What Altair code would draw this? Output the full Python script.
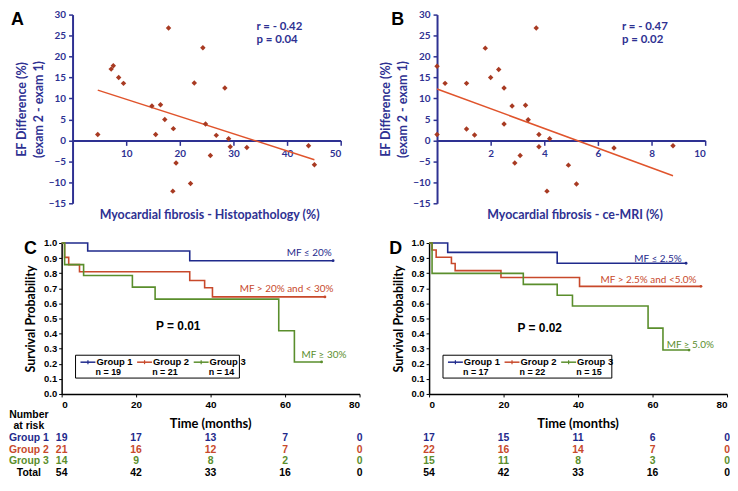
import altair as alt
import pandas as pd

# ---------------- Panel A: EF difference vs histopathology fibrosis ----------------
histo_fibrosis = [4.7, 7.2, 7.6, 8.6, 9.5, 14.8, 16.4, 15.5, 17.2, 17.9, 18.8, 18.7, 19.3,
                  22.0, 22.7, 24.3, 24.8, 25.7, 26.8, 28.4, 29.1, 29.4, 32.5, 44.0, 45.1]
histo_ef_diff = [1.4, 17.0, 17.8, 15.0, 13.6, 8.2, 8.5, 1.4, 5.0, 26.8, 2.8, -12.1, -5.4,
                 -10.3, 13.7, 22.1, 3.9, -3.6, 1.2, 12.5, 0.4, -1.5, -1.7, -1.3, -5.8]
a_stats = ["r = - 0.42", "p = 0.04"]

# ---------------- Panel B: EF difference vs ce-MRI fibrosis ----------------
mri_fibrosis = [0.0, 0.0, 0.3, 1.1, 1.1, 1.4, 1.8, 2.0, 2.3, 2.5, 2.5, 2.8, 2.9,
                3.1, 3.3, 3.4, 3.7, 3.8, 3.8, 4.1, 4.2, 4.9, 5.2, 6.6, 8.8]
mri_ef_diff = [17.7, 1.4, 13.6, 13.6, 2.7, 1.3, 22.0, 15.0, 16.9, 12.5, 3.9, 8.2, -5.4,
               -3.6, 8.4, 4.9, 26.8, 1.4, -1.5, -12.1, 0.4, -5.9, -10.4, -1.8, -1.3]
b_stats = ["r = - 0.47", "p = 0.02"]

ef_ticks = [-15, -10, -5, 0, 5, 10, 15, 20, 25, 30]

# ---------------- Panel C: Kaplan-Meier by histopathology groups ----------------
groups = ["Group 1", "Group 2", "Group 3"]
c_g1_t = [0, 7.0, 34.4, 72.9]
c_g1_s = [1.0, 0.947, 0.883, 0.883]
c_g2_t = [0, 0.8, 1.9, 4.8, 34.4, 38.4, 40.5, 70.7]
c_g2_s = [1.0, 0.905, 0.857, 0.810, 0.752, 0.704, 0.643, 0.643]
c_g3_t = [0, 0.8, 5.9, 19.0, 25.1, 58.3, 62.5, 69.8]
c_g3_s = [1.0, 0.857, 0.785, 0.708, 0.628, 0.419, 0.212, 0.212]
c_n = ["n = 19", "n = 21", "n = 14"]
c_labels = ["MF ≤ 20%", "MF > 20% and < 30%", "MF ≥ 30%"]
c_label_t = [72.5, 73.0, 64.4]
c_label_s = [0.936, 0.692, 0.256]
c_p = "P = 0.01"
c_risk_g1 = [19, 17, 13, 7, 0]
c_risk_g2 = [21, 16, 12, 7, 0]
c_risk_g3 = [14, 9, 8, 2, 0]
c_risk_tot = [54, 42, 33, 16, 0]

# ---------------- Panel D: Kaplan-Meier by ce-MRI groups ----------------
d_g1_t = [0, 5.0, 34.4, 69.0]
d_g1_s = [1.0, 0.938, 0.866, 0.866]
d_g2_t = [0, 0.8, 1.9, 6.0, 7.0, 19.3, 40.4, 73.0]
d_g2_s = [1.0, 0.954, 0.906, 0.864, 0.817, 0.771, 0.713, 0.713]
d_g3_t = [0, 0.8, 25.3, 34.4, 38.5, 58.8, 62.8, 69.8]
d_g3_s = [1.0, 0.799, 0.726, 0.654, 0.583, 0.436, 0.291, 0.291]
d_n = ["n = 17", "n = 22", "n = 15"]
d_labels = ["MF ≤ 2.5%", "MF > 2.5% and <5.0%", "MF ≥ 5.0%"]
d_label_t = [67.8, 71.8, 63.8]
d_label_s = [0.897, 0.756, 0.327]
d_p = "P = 0.02"
d_risk_g1 = [17, 15, 11, 6, 0]
d_risk_g2 = [22, 16, 14, 7, 0]
d_risk_g3 = [15, 11, 8, 3, 0]
d_risk_tot = [54, 42, 33, 16, 0]

risk_times = [0, 20, 40, 60, 80]
surv_ticks = [0.0, 0.1, 0.2, 0.3, 0.4, 0.5, 0.6, 0.7, 0.8, 0.9, 1.0]

# ---------------- styling ----------------
NAVY = "#2E3192"
BLUE = "#1F2A8C"
RED = "#C8492B"
GREEN = "#5A8E2C"
DOT = "#A83A22"
FIT = "#E0542C"
CAL = "Lato"
ARIAL = "Liberation Sans"

W, H_TOP, H_BOT = 300, 190, 152
W_SC = 270
ONE = pd.DataFrame({"k": [0]})


def letter_mark(letter, lx, ly):
    return alt.Chart(ONE).mark_text(
        text=letter, font=ARIAL, fontSize=18, fontWeight="bold", color="black",
        align="left", baseline="alphabetic"
    ).encode(x=alt.value(lx), y=alt.value(ly))


def scatter_panel(xs, ys, xmax, xticks, xtitle, title_cx, stats, ann_x, letter, letter_x,
                  x0):
    df = pd.DataFrame({"x": xs, "y": ys})
    xscale = alt.Scale(domain=[0, xmax], nice=False, zero=False, range=[x0, x0 + W_SC])
    yscale = alt.Scale(domain=[-15, 30], nice=False)
    xaxis = alt.Axis(values=xticks, offset=-H_TOP * 15 / 45, domainColor=NAVY, domainWidth=2,
                     tickColor=NAVY, tickWidth=1.5, tickSize=5, labelColor=NAVY, labelFont=CAL,
                     labelFontWeight="bold", labelFontSize=10, labelPadding=3, grid=False,
                     labelOverlap=False, title=None)
    yaxis = alt.Axis(values=ef_ticks, offset=-x0, domainColor=NAVY,
                     domainWidth=2, tickColor=NAVY, tickWidth=1.5, tickSize=4,
                     labelColor=NAVY, labelFont=CAL, labelFontWeight="bold", labelFontSize=10,
                     labelPadding=3, grid=False, labelOverlap=False,
                     title=["EF Difference (%)", "(exam 2 - exam 1)"], titleColor=NAVY,
                     titleFont=CAL, titleFontSize=12.5, titleFontWeight="bold",
                     titlePadding=3, titleLineHeight=17)
    X = alt.X("x:Q", scale=xscale, axis=xaxis)
    Y = alt.Y("y:Q", scale=yscale, axis=yaxis)
    pts = alt.Chart(df).mark_point(shape="diamond", filled=True, size=30, color=DOT,
                                   opacity=1).encode(x=X, y=Y)
    fit = alt.Chart(df).transform_regression("x", "y").mark_line(
        color=FIT, strokeWidth=1.5).encode(x=X, y=Y)
    ann = alt.Chart(pd.DataFrame({"x": [ann_x, ann_x], "y": [27.0, 24.0], "t": stats})).mark_text(
        align="left", baseline="middle", font=CAL, fontSize=11.5, fontWeight="bold", color=NAVY
    ).encode(x=X, y=Y, text="t:N")
    xt = alt.Chart(ONE).mark_text(
        text=xtitle, align="center", baseline="middle", font=CAL, fontSize=12.5,
        fontWeight="bold", color=NAVY
    ).encode(x=alt.value(x0 + title_cx), y=alt.value(H_TOP + 12))
    return alt.layer(fit, pts, ann, xt, letter_mark(letter, x0 + letter_x, 10)).properties(
        width=W, height=H_TOP)


def km_panel(ts_list, ss_list, n_list, labels, label_t, label_s, ptext, p_t, p_s,
             risks, letter, letter_x, row_labels, legend_w):
    rows = []
    for g, ts, ss in zip(groups, ts_list, ss_list):
        for t, s in zip(ts, ss):
            rows.append({"g": g, "t": t, "s": s})
    df = pd.DataFrame(rows)
    ends = pd.DataFrame({"g": groups, "t": [ts[-1] for ts in ts_list],
                         "s": [ss[-1] for ss in ss_list]})
    color = alt.Color("g:N", scale=alt.Scale(domain=groups, range=[BLUE, RED, GREEN]),
                      legend=None)
    X = alt.X("t:Q", scale=alt.Scale(domain=[0, 80], nice=False),
              axis=alt.Axis(values=risk_times, domainColor="black", domainWidth=1.5,
                            tickColor="black", tickSize=3, labelFont=ARIAL,
                            labelFontWeight="bold", labelFontSize=10, labelColor="black",
                            labelPadding=3, grid=False, labelOverlap=False, title=None))
    Y = alt.Y("s:Q", scale=alt.Scale(domain=[0, 1], nice=False),
              axis=alt.Axis(values=surv_ticks, format=".1f",
                            domainColor="black", domainWidth=1.5, tickColor="black",
                            tickSize=3, labelFont=ARIAL, labelFontWeight="bold",
                            labelFontSize=9.5, labelColor="black", labelPadding=2,
                            grid=False, labelOverlap=False, title="Survival Probability",
                            titleFont=CAL, titleFontSize=12.5, titleFontWeight="bold",
                            titleColor="black", titlePadding=6))
    lines = alt.Chart(df).mark_line(interpolate="step-after", strokeWidth=1.6).encode(
        x=X, y=Y, color=color, detail="g:N")
    endpts = alt.Chart(ends).mark_point(filled=True, size=8, opacity=1).encode(
        x=X, y=Y, color=color)
    lab_df = pd.DataFrame({"g": groups, "t": label_t, "s": label_s, "txt": labels,
                           "al": ["r", "r", "l"]})
    lab_r = alt.Chart(lab_df).transform_filter("datum.al == 'r'").mark_text(
        align="right", baseline="middle", font=CAL, fontSize=10).encode(
        x=X, y=Y, text="txt:N", color=color)
    lab_l = alt.Chart(lab_df).transform_filter("datum.al == 'l'").mark_text(
        align="left", baseline="middle", font=CAL, fontSize=10).encode(
        x=X, y=Y, text="txt:N", color=color)
    ptxt = alt.Chart(pd.DataFrame({"t": [p_t], "s": [p_s], "txt": [ptext]})).mark_text(
        align="center", baseline="middle", font=ARIAL, fontSize=12, fontWeight="bold",
        color="black").encode(x=X, y=Y, text="txt:N")

    layers = [lines, endpts, lab_r, lab_l, ptxt]

    # legend box
    lx0, ly0 = 14, H_BOT - 39
    layers.append(alt.Chart(ONE).mark_rect(fill="white", stroke="black", strokeWidth=1).encode(
        x=alt.value(lx0), x2=alt.value(lx0 + legend_w), y=alt.value(ly0),
        y2=alt.value(ly0 + 23)))
    for i, (g, col, n) in enumerate(zip(groups, [BLUE, RED, GREEN], n_list)):
        bx = lx0 + 5 + i * 57
        layers.append(alt.Chart(ONE).mark_rule(color=col, strokeWidth=1.5).encode(
            x=alt.value(bx), x2=alt.value(bx + 15), y=alt.value(ly0 + 7)))
        layers.append(alt.Chart(ONE).mark_rule(color=col, strokeWidth=1.2).encode(
            x=alt.value(bx + 7.5), y=alt.value(ly0 + 5), y2=alt.value(ly0 + 9)))
        layers.append(alt.Chart(ONE).mark_text(
            text=g, align="left", baseline="middle", font=ARIAL, fontSize=9.5,
            fontWeight="bold", color="black").encode(
            x=alt.value(bx + 16), y=alt.value(ly0 + 7)))
        layers.append(alt.Chart(ONE).mark_text(
            text=n, align="center", baseline="middle", font=ARIAL, fontSize=9,
            fontWeight="bold", color="black").encode(
            x=alt.value(bx + 28), y=alt.value(ly0 + 17)))

    # x title
    layers.append(alt.Chart(ONE).mark_text(
        text="Time (months)", align="center", baseline="middle", font=CAL, fontSize=13,
        fontWeight="bold", color="black").encode(
        x=alt.value(W / 2), y=alt.value(H_BOT + 30)))

    # number at risk table
    row_cols = [BLUE, RED, GREEN, "black"]
    row_names = ["Group 1", "Group 2", "Group 3", "Total"]
    for k, (vals, col) in enumerate(zip(risks, row_cols)):
        rdf = pd.DataFrame({"t": risk_times, "v": vals})
        layers.append(alt.Chart(rdf).mark_text(
            align="center", baseline="middle", font=ARIAL, fontSize=10.5, fontWeight="bold",
            color=col).encode(x=X, y=alt.value(H_BOT + 44 + 12 * k), text="v:Q"))
        if row_labels:
            layers.append(alt.Chart(ONE).mark_text(
                text=row_names[k], align="center", baseline="middle", font=ARIAL,
                fontSize=10.5, fontWeight="bold", color=col).encode(
                x=alt.value(-33), y=alt.value(H_BOT + 44 + 12 * k)))
    if row_labels:
        for txt, dy in [("Number", 21), ("at risk", 32)]:
            layers.append(alt.Chart(ONE).mark_text(
                text=txt, align="center", baseline="middle", font=ARIAL, fontSize=10.5,
                fontWeight="bold", color="black").encode(
                x=alt.value(-33), y=alt.value(H_BOT + dy)))

    layers.append(letter_mark(letter, letter_x, 11))
    return alt.layer(*layers).properties(width=W, height=H_BOT)


panel_a = scatter_panel(histo_fibrosis, histo_ef_diff, 50, [10, 20, 30, 40, 50],
                        "Myocardial fibrosis - Histopathology (%)", 138, a_stats, 34.3,
                        "A", -62, 11)
panel_b = scatter_panel(mri_fibrosis, mri_ef_diff, 10, [2, 4, 6, 8, 10],
                        "Myocardial fibrosis - ce-MRI (%)", 139, b_stats, 6.9, "B", -46, 8)
panel_c = km_panel([c_g1_t, c_g2_t, c_g3_t], [c_g1_s, c_g2_s, c_g3_s], c_n, c_labels,
                   c_label_t, c_label_s, c_p, 31.3, 0.45,
                   [c_risk_g1, c_risk_g2, c_risk_g3, c_risk_tot], "C", -38, True, 165)
panel_d = km_panel([d_g1_t, d_g2_t, d_g3_t], [d_g1_s, d_g2_s, d_g3_s], d_n, d_labels,
                   d_label_t, d_label_s, d_p, 29.7, 0.44,
                   [d_risk_g1, d_risk_g2, d_risk_g3, d_risk_tot], "D", -40, False, 170)

chart = alt.concat(
    panel_a, panel_b, panel_c, panel_d,
    columns=2, bounds="flush", spacing={"row": 40, "column": 70}
).resolve_scale(
    x="independent", y="independent", color="independent"
).configure_view(stroke=None).configure_axis(labelOverlap=False).properties(padding=0)

chart.save("out.html", embed_options={"renderer": "svg", "actions": False})
